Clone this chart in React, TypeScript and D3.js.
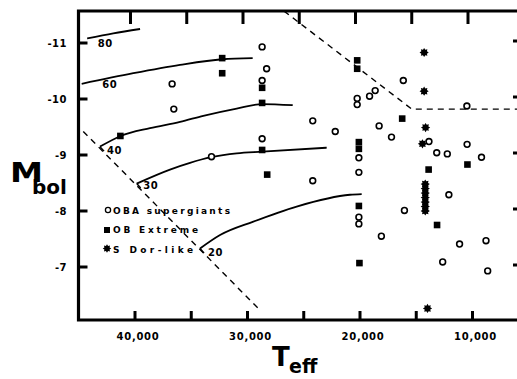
import React from 'react';
import * as d3 from 'd3';

// ---------- data (Teff in K, Mbol in mag) ----------
const xTickValues = [40000, 35000, 30000, 25000, 20000, 15000, 10000];
const xTickLabels = ['40,000', '30,000', '20,000', '10,000'];
const xLabelValues = [40000, 30000, 20000, 10000];
const yTickValues = [-11, -10, -9, -8, -7];
const yTickLabels = ['-11', '-10', '-9', '-8', '-7'];

const obaSupergiants: [number, number][] = [
  [28700, -10.93], [28300, -10.54], [36700, -10.27], [28700, -10.33], [36550, -9.82],
  [24200, -9.61], [22200, -9.42], [28700, -9.29], [33200, -8.97], [24200, -8.54],
  [16150, -10.33], [20250, -10.01], [20250, -9.9], [19150, -10.05], [18650, -10.15],
  [18300, -9.52], [17200, -9.32], [20100, -8.95], [20100, -8.69], [13870, -9.24],
  [13180, -9.04], [12240, -9.02], [10480, -9.19], [9200, -8.96], [10500, -9.875],
  [12100, -8.29], [20100, -7.89], [20100, -7.77], [16050, -8.01], [18100, -7.55],
  [11150, -7.41], [8800, -7.47], [12650, -7.09], [8650, -6.93],
];

const obExtreme: [number, number][] = [
  [32250, -10.73], [32250, -10.46], [28700, -10.2], [28700, -9.93], [41300, -9.34],
  [28700, -9.09], [28250, -8.65], [20250, -10.69], [20250, -10.54], [16250, -9.65],
  [20100, -9.23], [20100, -9.11], [13900, -8.74], [10450, -8.83], [20100, -8.09],
  [13150, -7.75], [20050, -7.07],
];

const sDorLike: [number, number][] = [
  [14300, -10.83], [14300, -10.14], [14170, -9.49], [14450, -9.2],
  [14200, -8.48], [14200, -8.4], [14200, -8.32], [14200, -8.24], [14200, -8.16],
  [14200, -8.08], [14200, -8.0], [14000, -6.26],
];

const trackMasses = ['80', '60', '40', '30', '20'];
const track80: [number, number][] = [[44250, -11.08], [41930, -11.17], [39550, -11.25]];
const track60: [number, number][] = [
  [44740, -10.27], [40150, -10.46], [36000, -10.61], [32240, -10.71], [29540, -10.73],
];
const track40: [number, number][] = [
  [43110, -9.15], [41270, -9.34], [38670, -9.48], [36000, -9.59], [33930, -9.7],
  [30960, -9.83], [28680, -9.91], [25980, -9.89],
];
const track30: [number, number][] = [
  [39850, -8.49], [36890, -8.74], [35110, -8.86], [33220, -8.96], [30960, -9.03],
  [28680, -9.06], [22960, -9.13],
];
const track20: [number, number][] = [
  [34220, -7.33], [32440, -7.57], [29480, -7.81], [25630, -8.08], [20890, -8.29],
  [19850, -8.3],
];
const tracks = [track80, track60, track40, track30, track20];
const trackHooks = [false, false, true, true, true];

const dashedLeft: [number, number][] = [[44600, -9.42], [29040, -6.26]];
const dashedUpper: [number, number][] = [[26750, -11.57], [15400, -9.82], [5500, -9.82]];

const legendLabels = ['OBA supergiants', 'OB Extreme', 'S Dor-like'];

// ---------- layout / style ----------
const W = 517;
const H = 379;
const FONT = "'DejaVu Sans', sans-serif";
const frame = { left: 78.5, top: 11, bottom: 320, right: 521 };
const labelOffsets: [number, number][] = [[18, 5], [28, 1], [14.5, 4], [14, 1.5], [15.5, 3.5]];
const legendLengths = [117, 85, 80];

const x = d3.scaleLinear().domain([40000, 10000]).range([135, 472.5]);
const y = d3.scaleLinear().domain([-11, -7]).range([43, 267]);

const lineGen = d3
  .line<[number, number]>()
  .x((d) => x(d[0]))
  .y((d) => y(d[1]))
  .curve(d3.curveMonotoneX);
const straight = d3
  .line<[number, number]>()
  .x((d) => x(d[0]))
  .y((d) => y(d[1]));

function starPath(cx: number, cy: number, ro: number, ri: number, n = 8) {
  const pts: string[] = [];
  for (let i = 0; i < n * 2; i++) {
    const r = i % 2 === 0 ? ro : ri;
    const a = (Math.PI * i) / n - Math.PI / 2;
    pts.push(`${(cx + r * Math.cos(a)).toFixed(2)},${(cy + r * Math.sin(a)).toFixed(2)}`);
  }
  return 'M' + pts.join('L') + 'Z';
}

const Circle = ({ cx, cy }: { cx: number; cy: number }) => (
  <circle cx={cx} cy={cy} r={2.9} fill="#fff" stroke="#000" strokeWidth={1.6} />
);
const Square = ({ cx, cy }: { cx: number; cy: number }) => (
  <rect x={cx - 3.3} y={cy - 3.3} width={6.6} height={6.6} fill="#000" />
);
const Star = ({ cx, cy }: { cx: number; cy: number }) => (
  <path d={starPath(cx, cy, 4.6, 3.0)} fill="#000" />
);

export default function App() {
  return (
    <svg
      width={W}
      height={H}
      viewBox={`0 0 ${W} ${H}`}
      style={{ position: 'absolute', left: 0, top: 0, background: '#fff' }}
      fontFamily={FONT}
    >
      <rect x={0} y={0} width={W} height={H} fill="#fff" />

      {/* frame */}
      <path
        d={`M${frame.left},${frame.bottom} L${frame.left},${frame.top} L${frame.right},${frame.top} L${frame.right},${frame.bottom} Z`}
        fill="none"
        stroke="#000"
        strokeWidth={3.2}
      />

      {/* x ticks bottom & top */}
      {xTickValues.map((t) => (
        <g key={'xt' + t}>
          <line x1={x(t)} x2={x(t)} y1={frame.bottom} y2={frame.bottom - 9} stroke="#000" strokeWidth={3} />
          <line x1={x(t) - 4.5} x2={x(t) - 4.5} y1={frame.top} y2={frame.top + 13} stroke="#000" strokeWidth={3} />
        </g>
      ))}
      {xLabelValues.map((t, i) => (
        <text
          key={'xl' + t}
          x={x(t) + 3}
          y={340}
          textAnchor="middle"
          fontSize={10}
          fontWeight="bold"
          letterSpacing={0.7}
        >
          {xTickLabels[i]}
        </text>
      ))}

      {/* y ticks left & right */}
      {yTickValues.map((m, i) => (
        <g key={'yt' + m}>
          <line x1={frame.left} x2={frame.left + 9} y1={y(m)} y2={y(m)} stroke="#000" strokeWidth={3} />
          <line x1={frame.right} x2={frame.right - 8} y1={y(m) - 2} y2={y(m) - 2} stroke="#000" strokeWidth={3} />
          <text x={67} y={y(m) + 3.5} textAnchor="end" fontSize={10} fontWeight="bold" letterSpacing={0.5}>
            {yTickLabels[i]}
          </text>
        </g>
      ))}

      {/* axis titles */}
      <text fontWeight="bold">
        <tspan x={10} y={182} fontSize={27} textLength={33} lengthAdjust="spacingAndGlyphs">M</tspan>
        <tspan x={32} y={194} fontSize={20}>bol</tspan>
      </text>
      <text fontWeight="bold">
        <tspan x={272} y={366} fontSize={26}>T</tspan>
        <tspan x={289} y={373} fontSize={19}>eff</tspan>
      </text>

      {/* dashed boundaries */}
      <path d={straight(dashedLeft) || ''} fill="none" stroke="#000" strokeWidth={1.4} strokeDasharray="6 5" />
      <path d={straight(dashedUpper) || ''} fill="none" stroke="#000" strokeWidth={1.4} strokeDasharray="6 5" />

      {/* evolutionary tracks */}
      {tracks.map((tr, i) => {
        const sx = x(tr[0][0]);
        const sy = y(tr[0][1]);
        return (
          <g key={'tr' + i}>
            <path d={lineGen(tr) || ''} fill="none" stroke="#000" strokeWidth={1.8} />
            {trackHooks[i] && (
              <line x1={sx} y1={sy} x2={sx + 4} y2={sy + 4.5} stroke="#000" strokeWidth={1.4} />
            )}
            <text
              x={sx + labelOffsets[i][0]}
              y={sy + labelOffsets[i][1] + 3.5}
              textAnchor="middle"
              fontSize={10}
              fontWeight="bold"
              letterSpacing={0.5}
            >
              {trackMasses[i]}
            </text>
          </g>
        );
      })}

      {/* data points */}
      {obaSupergiants.map((d, i) => (
        <Circle key={'c' + i} cx={x(d[0])} cy={y(d[1])} />
      ))}
      {obExtreme.map((d, i) => (
        <Square key={'s' + i} cx={x(d[0])} cy={y(d[1])} />
      ))}
      {sDorLike.map((d, i) => (
        <Star key={'st' + i} cx={x(d[0])} cy={y(d[1])} />
      ))}

      {/* legend */}
      <g>
        <circle cx={108} cy={210} r={2.6} fill="#fff" stroke="#000" strokeWidth={1.3} />
        <rect x={104} y={227} width={6} height={6} fill="#000" />
        <path d={starPath(107, 248.5, 4.3, 2.8)} fill="#000" />
        {legendLabels.map((l, i) => (
          <text
            key={'lg' + i}
            x={113}
            y={213.5 + i * 19.7}
            fontSize={9}
            fontWeight="bold"
            textLength={legendLengths[i]}
            lengthAdjust="spacing"
          >
            {l}
          </text>
        ))}
      </g>
    </svg>
  );
}
